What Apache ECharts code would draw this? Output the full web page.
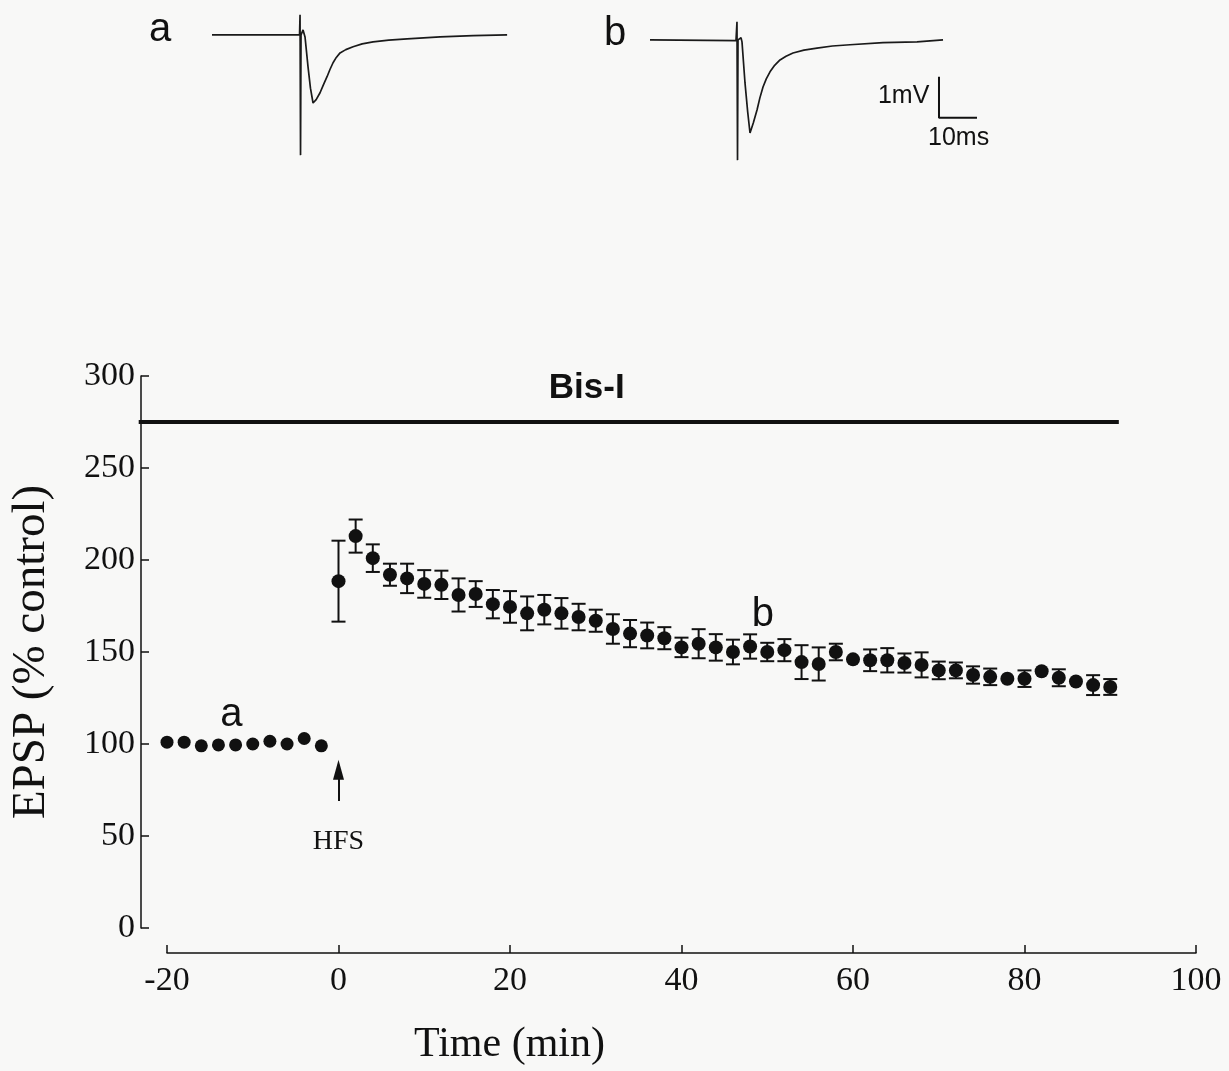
<!DOCTYPE html>
<html>
<head>
<meta charset="utf-8">
<script src="https://cdn.jsdelivr.net/npm/echarts@6/dist/echarts.min.js"></script>
<style>
html,body{margin:0;padding:0;background:#f8f8f7;}
#chart{width:1229px;height:1071px;}
</style>
</head>
<body>
<div id="chart"></div>
<script>
// ---- Main plot data ----
const baseTime = [-20, -18, -16, -14, -12, -10, -8, -6, -4, -2];
const baseVals = [101, 101, 99, 99.5, 99.5, 100, 101.5, 100, 103, 99];

const postTime = [0, 2, 4, 6, 8, 10, 12, 14, 16, 18, 20, 22, 24, 26, 28, 30, 32, 34, 36, 38,
  40, 42, 44, 46, 48, 50, 52, 54, 56, 58, 60, 62, 64, 66, 68, 70, 72, 74, 76, 78, 80, 82, 84, 86, 88, 90];
const postVals = [188.5, 213, 201, 192, 190, 187, 186.5, 181, 181.5, 176, 174.5, 171, 173, 171, 169, 167,
  162.5, 160, 159, 157.5, 152.5, 154.5, 152.5, 150, 153, 150, 151, 144.5, 143.5, 150, 146, 145.5, 145.5,
  144, 143, 140, 140, 137.5, 136.5, 135.5, 135.5, 139.5, 136, 134, 132, 131];
const postErr = [22, 9, 7.5, 6, 8, 7.5, 7.7, 9, 7, 7.7, 8.6, 9.2, 8, 8.3, 7.2, 6, 8, 7.4, 7, 6, 5.3,
  7.9, 7.2, 6.7, 6.6, 5, 6, 9.2, 9, 4.5, 0, 5.9, 6.6, 5.2, 6.8, 4.8, 4.3, 4.7, 4.5, 0, 4.5, 0, 4.6, 0, 5.4, 4.3];

const xTicks = [-20, 0, 20, 40, 60, 80, 100];
const yTicks = [0, 50, 100, 150, 200, 250, 300];

// Bis-I application bar (time span, level)
const bisTime = [-23.3, 91];
const bisLevel = 275;

// HFS arrow (time, from, to)
const hfsTime = 0;
const hfsFrom = 69;
const hfsTo = 86;

// annotations in plot
const annText = ['a', 'b'];
const annTime = [-12.5, 49.5];
const annVal = [116, 170];
const bisLabelPos = [28.95, 293.5];

// ---- Example traces (ms, mV) ----
const traceA_t = [0, 23.03, 23.16, 23.29, 23.42, 23.95, 24.47, 25.26, 25.9, 26.58, 27.4, 28.42, 29.3, 30.26, 31.0, 31.84, 32.7, 33.68, 35.2, 37.11, 39.5, 42.37, 46.5, 51.32, 60, 68.68, 77.63];
const traceA_v = [0, 0, 0.49, -2.93, 0, 0.12, -0.05, -0.78, -1.3, -1.66, -1.58, -1.41, -1.22, -1.02, -0.85, -0.68, -0.55, -0.44, -0.36, -0.29, -0.22, -0.17, -0.13, -0.1, -0.05, -0.02, 0];
const traceB_t = [0, 22.63, 22.89, 23.03, 23.16, 23.95, 24.21, 25, 25.7, 26.32, 27.2, 28.16, 28.9, 29.74, 30.6, 31.58, 32.8, 34.21, 35.8, 37.63, 40.5, 43.95, 48, 52.63, 61.32, 70.26, 77.11];
const traceB_v = [0, -0.02, 0.44, -2.93, 0, 0.05, -0.05, -1.05, -1.75, -2.27, -2.02, -1.71, -1.42, -1.15, -0.95, -0.78, -0.62, -0.49, -0.4, -0.32, -0.25, -0.2, -0.15, -0.12, -0.07, -0.05, 0];

// scale bar: 10 ms, 1 mV (in trace B coordinates)
const scaleX0 = 76.05, scaleMs = 10;
const scaleY0 = -1.9, scaleMv = 1;

const serif = 'Liberation Serif';
const sans = 'Liberation Sans';

const chart = echarts.init(document.getElementById('chart'));

const zip = (a, b) => a.map((v, i) => [v, b[i]]);

const option = {
  backgroundColor: '#f8f8f7',
  animation: false,
  grid: [
    { left: 166, right: 33, top: 376, bottom: 143 },
    { left: 212, top: 2, width: 295, height: 156 },
    { left: 650, top: 7, width: 342, height: 156 }
  ],
  xAxis: [
    {
      gridIndex: 0, type: 'value', min: -20, max: 100, interval: 20, offset: 25,
      axisLine: { show: true, onZero: false, lineStyle: { color: '#111', width: 1.5 } },
      axisTick: { show: true, inside: true, length: 8, lineStyle: { color: '#111', width: 1.5 } },
      axisLabel: { color: '#111', fontFamily: serif, fontSize: 34, margin: 11,
        formatter: v => xTicks.includes(v) ? String(v) : '' },
      splitLine: { show: false }
    },
    { gridIndex: 1, type: 'value', min: 0, max: 77.6, show: false },
    { gridIndex: 2, type: 'value', min: 0, max: 90, show: false }
  ],
  yAxis: [
    {
      gridIndex: 0, type: 'value', min: 0, max: 300, interval: 50, offset: 26,
      axisLine: { show: true, onZero: false, lineStyle: { color: '#111', width: 1.5 } },
      axisTick: { show: true, inside: true, length: 8, lineStyle: { color: '#111', width: 1.5 } },
      axisLabel: { color: '#111', fontFamily: serif, fontSize: 34, margin: 6,
        formatter: v => yTicks.includes(v) ? String(v) : '' },
      splitLine: { show: false },
      name: 'EPSP (% control)', nameLocation: 'middle', nameGap: 86,
      nameTextStyle: { color: '#111', fontFamily: serif, fontSize: 47 }
    },
    { gridIndex: 1, type: 'value', min: -3, max: 0.8, show: false },
    { gridIndex: 2, type: 'value', min: -3, max: 0.8, show: false }
  ],
  graphic: [
    { type: 'text', left: 149, top: 10, style: { text: 'a', font: '40px "Liberation Sans"', fill: '#111' } },
    { type: 'text', left: 604, top: 14, style: { text: 'b', font: '40px "Liberation Sans"', fill: '#111' } },
    { type: 'text', left: 414, top: 1024, style: { text: 'Time (min)', font: '42px "Liberation Serif"', fill: '#111' } }
  ],
  series: [
    {
      type: 'custom', xAxisIndex: 0, yAxisIndex: 0, clip: false, silent: true,
      data: [[bisTime[0], bisTime[1], bisLevel]],
      renderItem: function (params, api) {
        const a = api.coord([api.value(0), api.value(2)]);
        const b = api.coord([api.value(1), api.value(2)]);
        return { type: 'line', shape: { x1: a[0], y1: a[1], x2: b[0], y2: b[1] },
          style: { stroke: '#111', lineWidth: 4 } };
      }
    },
    {
      type: 'custom', xAxisIndex: 0, yAxisIndex: 0,
      data: postTime.map((t, i) => [t, postVals[i], postErr[i]]),
      renderItem: function (params, api) {
        const x = api.value(0), y = api.value(1), e = api.value(2);
        if (!e) return null;
        const top = api.coord([x, y + e]);
        const bot = api.coord([x, y - e]);
        const w = 7;
        const st = { stroke: '#111', lineWidth: 2 };
        return {
          type: 'group', children: [
            { type: 'line', shape: { x1: top[0], y1: top[1], x2: bot[0], y2: bot[1] }, style: st },
            { type: 'line', shape: { x1: top[0] - w, y1: top[1], x2: top[0] + w, y2: top[1] }, style: st },
            { type: 'line', shape: { x1: bot[0] - w, y1: bot[1], x2: bot[0] + w, y2: bot[1] }, style: st }
          ]
        };
      },
      silent: true, z: 3
    },
    {
      type: 'scatter', xAxisIndex: 0, yAxisIndex: 0, symbol: 'circle', symbolSize: 13,
      itemStyle: { color: '#111', opacity: 1 }, data: zip(baseTime, baseVals), z: 4
    },
    {
      type: 'scatter', xAxisIndex: 0, yAxisIndex: 0, symbol: 'circle', symbolSize: 14,
      itemStyle: { color: '#111', opacity: 1 }, data: zip(postTime, postVals), z: 4,
      markLine: {
        silent: true, symbol: ['none', 'triangle'], symbolSize: [11, 20],
        label: { show: false },
        lineStyle: { color: '#111', width: 2, type: 'solid', opacity: 1 },
        data: [[{ coord: [hfsTime, hfsFrom] }, { coord: [hfsTime, hfsTo] }]]
      }
    },
    {
      type: 'scatter', xAxisIndex: 0, yAxisIndex: 0, symbolSize: 0, silent: true,
      itemStyle: { opacity: 1 },
      data: [{ value: [hfsTime, 47], name: 'HFS' }],
      label: { show: true, position: 'inside', formatter: '{b}', color: '#111', fontFamily: serif, fontSize: 28 }
    },
    {
      type: 'scatter', xAxisIndex: 0, yAxisIndex: 0, symbolSize: 0, silent: true,
      itemStyle: { opacity: 1 },
      data: annText.map((s, i) => ({ value: [annTime[i], annVal[i]], name: s })),
      label: { show: true, position: 'inside', formatter: '{b}', color: '#111', fontFamily: sans, fontSize: 40 }
    },
    {
      type: 'scatter', xAxisIndex: 0, yAxisIndex: 0, symbolSize: 0, silent: true,
      itemStyle: { opacity: 1 },
      data: [{ value: bisLabelPos, name: 'Bis-I' }],
      label: { show: true, position: 'inside', formatter: '{b}', color: '#111', fontFamily: sans, fontWeight: 'bold', fontSize: 35 }
    },
    {
      type: 'line', xAxisIndex: 1, yAxisIndex: 1, symbol: 'none', clip: false,
      data: zip(traceA_t, traceA_v), lineStyle: { color: '#1a1a1a', width: 1.7 }, silent: true
    },
    {
      type: 'line', xAxisIndex: 2, yAxisIndex: 2, symbol: 'none', clip: false,
      data: zip(traceB_t, traceB_v), lineStyle: { color: '#1a1a1a', width: 1.7 }, silent: true
    },
    {
      type: 'line', xAxisIndex: 2, yAxisIndex: 2, symbol: 'none', clip: false,
      data: [[scaleX0, scaleY0 + scaleMv], [scaleX0, scaleY0], [scaleX0 + scaleMs, scaleY0]],
      lineStyle: { color: '#111', width: 2 }, silent: true
    },
    {
      type: 'scatter', xAxisIndex: 2, yAxisIndex: 2, symbolSize: 0, silent: true,
      itemStyle: { opacity: 1 },
      data: [
        { value: [73.5, -1.38], name: '1mV', label: { position: 'left', distance: 0 } },
        { value: [81.2, -2.4], name: '10ms', label: { position: 'inside' } }
      ],
      label: { show: true, formatter: '{b}', color: '#111', fontFamily: sans, fontSize: 25 }
    }
  ]
};
chart.setOption(option);
</script>
</body>
</html>
